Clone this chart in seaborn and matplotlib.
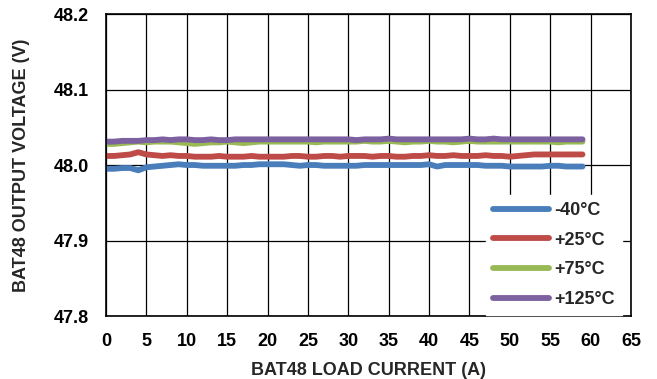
import numpy as np
import pandas as pd
import matplotlib
matplotlib.use("Agg")
import matplotlib.pyplot as plt
import seaborn as sns

current = list(range(0, 60))

v_m40 = [47.995, 47.995, 47.996, 47.996, 47.993, 47.997, 47.998, 47.999, 48.000, 48.001,
         48.000, 48.000, 47.999, 47.999, 47.999, 47.999, 47.999, 48.000, 48.000, 48.001,
         48.001, 48.001, 48.001, 48.000, 47.999, 48.000, 48.000, 47.999, 47.999, 47.999,
         47.999, 47.999, 48.000, 48.000, 48.000, 48.000, 48.000, 48.000, 48.000, 48.000,
         48.001, 47.998, 48.000, 48.000, 48.000, 48.000, 48.000, 47.999, 47.999, 47.999,
         47.998, 47.998, 47.998, 47.998, 47.998, 47.999, 47.999, 47.998, 47.998, 47.998]

v_25 = [48.012, 48.012, 48.013, 48.014, 48.017, 48.014, 48.013, 48.012, 48.013, 48.012,
        48.012, 48.011, 48.011, 48.011, 48.012, 48.011, 48.011, 48.011, 48.012, 48.011,
        48.011, 48.011, 48.011, 48.012, 48.012, 48.011, 48.011, 48.012, 48.012, 48.011,
        48.012, 48.012, 48.012, 48.011, 48.012, 48.012, 48.011, 48.011, 48.012, 48.012,
        48.013, 48.012, 48.012, 48.013, 48.012, 48.012, 48.012, 48.013, 48.012, 48.012,
        48.011, 48.012, 48.013, 48.014, 48.014, 48.014, 48.014, 48.014, 48.014, 48.014]

v_75 = [48.028, 48.028, 48.029, 48.030, 48.031, 48.030, 48.031, 48.031, 48.031, 48.030,
        48.029, 48.028, 48.029, 48.030, 48.030, 48.031, 48.030, 48.029, 48.030, 48.031,
        48.031, 48.031, 48.031, 48.031, 48.031, 48.031, 48.030, 48.031, 48.031, 48.031,
        48.031, 48.031, 48.032, 48.031, 48.031, 48.032, 48.031, 48.030, 48.031, 48.031,
        48.032, 48.031, 48.031, 48.030, 48.031, 48.032, 48.031, 48.031, 48.031, 48.031,
        48.031, 48.031, 48.031, 48.031, 48.031, 48.031, 48.030, 48.031, 48.031, 48.031]

v_125 = [48.031, 48.031, 48.032, 48.032, 48.032, 48.033, 48.033, 48.034, 48.033, 48.034,
         48.034, 48.033, 48.033, 48.034, 48.033, 48.033, 48.034, 48.034, 48.034, 48.034,
         48.034, 48.034, 48.034, 48.034, 48.034, 48.034, 48.034, 48.034, 48.034, 48.034,
         48.034, 48.033, 48.034, 48.034, 48.034, 48.035, 48.034, 48.034, 48.034, 48.034,
         48.034, 48.034, 48.034, 48.034, 48.034, 48.035, 48.034, 48.034, 48.035, 48.034,
         48.034, 48.034, 48.034, 48.034, 48.034, 48.034, 48.034, 48.034, 48.034, 48.034]

labels = ["-40°C", "+25°C", "+75°C", "+125°C"]
colors = ["#4A7EBB", "#BE4B48", "#98B954", "#7D60A0"]
x_ticks = list(range(0, 70, 5))
y_ticks = [47.8, 47.9, 48.0, 48.1, 48.2]

df = pd.concat([
    pd.DataFrame({"current": current, "voltage": v, "series": lab})
    for v, lab in zip([v_m40, v_25, v_75, v_125], labels)
])

sns.set_theme(style="white")
plt.rcParams["font.family"] = ["Liberation Sans", "DejaVu Sans"]
plt.rcParams["font.weight"] = "bold"

FS = 13
LW = 4.2

fig = plt.figure(figsize=(6.57, 3.79), dpi=100)
ax = fig.add_axes([0.1613, 0.1662, 0.7991, 0.7968])

sns.lineplot(data=df, x="current", y="voltage", hue="series", hue_order=labels,
             palette=colors, linewidth=LW, ax=ax, solid_capstyle="round")

ax.set_xlim(0, 65)
ax.set_ylim(47.8, 48.2)
ax.set_xticks(x_ticks)
ax.set_yticks(y_ticks)
ax.set_xticklabels([str(t) for t in x_ticks], fontsize=FS, fontweight="bold")
ax.set_yticklabels([f"{t:.1f}" for t in y_ticks], fontsize=FS, fontweight="bold")
ax.tick_params(axis="both", length=0, pad=12, colors="black")
ax.grid(True, color="black", linewidth=0.9)
ax.set_axisbelow(True)
for s in ax.spines.values():
    s.set_color("black")
    s.set_linewidth(1.2)

ax.set_xlabel("BAT48 LOAD CURRENT (A)", fontsize=FS, fontweight="bold", labelpad=9)
ax.set_ylabel("BAT48 OUTPUT VOLTAGE (V)", fontsize=FS, fontweight="bold", labelpad=17)

leg = ax.legend(loc="lower right", bbox_to_anchor=(0.983, 0.003), frameon=True,
                fancybox=False, framealpha=1, facecolor="white", edgecolor="white",
                prop={"weight": "bold", "size": FS}, handlelength=3.1,
                handletextpad=0.3, labelspacing=0.7, borderpad=0.4, borderaxespad=0)
for line in leg.get_lines():
    line.set_linewidth(LW)
    line.set_solid_capstyle("round")

fig.savefig("out.png", dpi=100)
